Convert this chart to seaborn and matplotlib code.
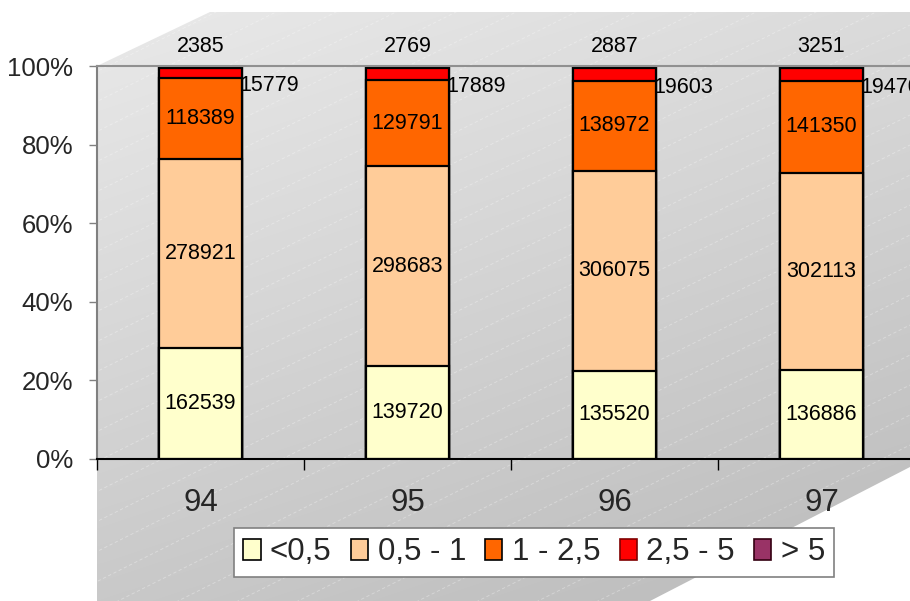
import numpy as np
import pandas as pd
import matplotlib
matplotlib.use("Agg")
import matplotlib.pyplot as plt
from matplotlib.patches import Polygon, Patch
import seaborn as sns

# ---- data ----
years = ["94", "95", "96", "97"]
series_names = ["<0,5", "0,5 - 1", "1 - 2,5", "2,5 - 5", "> 5"]
s_lt05 = [162539, 139720, 135520, 136886]
s_05_1 = [278921, 298683, 306075, 302113]
s_1_25 = [118389, 129791, 138972, 141350]
s_25_5 = [15779, 17889, 19603, 19470]
s_gt5 = [2385, 2769, 2887, 3251]
colors = ["#FFFFCC", "#FFCC99", "#FF6600", "#FF0000", "#993366"]
legend_edges = ["#000000", "#000000", "#000000", "#800000", "#330011"]

sns.set_theme(style="white")
plt.rcParams["font.family"] = ["Liberation Sans", "DejaVu Sans"]

W, H = 910, 601
fig = plt.figure(figsize=(W / 100, H / 100), dpi=100)

# ---- background wall / floor ----
bg = fig.add_axes([0, 0, 1, 1], zorder=0)
bg.set_xlim(0, W)
bg.set_ylim(H, 0)
bg.axis("off")
xx, yy = np.meshgrid(np.arange(W), np.arange(H))
g = 0.925 - 0.065 * (xx / W) - 0.13 * (yy / H)
img = np.dstack([g, g, g])
poly = Polygon([(97, 66), (210, 12), (910, 12), (910, 467), (650, 601), (97, 601)],
               closed=True, transform=bg.transData, facecolor="none", edgecolor="none")
bg.add_patch(poly)
im = bg.imshow(img, extent=(0, W, H, 0), aspect="auto", interpolation="bilinear")
im.set_clip_path(poly)
for c in np.arange(0, 1200, 30):
    xs = np.array([0, W])
    ln, = bg.plot(xs, c - 0.5 * xs, color="white", lw=0.6, alpha=0.35, ls=(0, (4, 3)))
    ln.set_clip_path(poly)

# ---- main axes ----
left, right, top, bottom = 97, 925, 66, 459
ax = fig.add_axes([left / W, (H - bottom) / H, (right - left) / W, (bottom - top) / H], zorder=1)
ax.set_facecolor("none")

df = pd.DataFrame({"year": years, series_names[0]: s_lt05, series_names[1]: s_05_1,
                   series_names[2]: s_1_25, series_names[3]: s_25_5, series_names[4]: s_gt5})
vals = df[series_names].to_numpy(dtype=float)
pct = vals / vals.sum(axis=1, keepdims=True) * 100
cum = np.cumsum(pct, axis=1)

bw = 0.4
for k in range(len(series_names) - 1, -1, -1):
    sns.barplot(x=df["year"], y=cum[:, k], color=colors[k], edgecolor="black",
                linewidth=1.6, width=bw, ax=ax, saturation=1)

ax.set_xlim(-0.5, 3.5)
ax.set_ylim(0, 100)
ax.set_xlabel("")
ax.set_ylabel("")

# data labels
lab_fs = 15.5
for i in range(len(years)):
    for k in range(3):
        yc = cum[i, k] - pct[i, k] / 2
        ax.text(i, yc, f"{int(vals[i, k])}", ha="center", va="center", fontsize=lab_fs, color="black")
    yc = cum[i, 3] - pct[i, 3] / 2 - 3.3
    ax.text(i + bw / 2 - 0.012, yc, f"{int(vals[i, 3])}", ha="left", va="center",
            fontsize=lab_fs, color="black", clip_on=False)
    ax.text(i, 105.0, f"{int(vals[i, 4])}", ha="center", va="center",
            fontsize=lab_fs, color="black", clip_on=False)

# axes styling
ax.set_yticks([0, 20, 40, 60, 80, 100])
ax.set_yticklabels(["0%", "20%", "40%", "60%", "80%", "100%"])
ax.tick_params(axis="y", which="major", length=6, width=1, color="#808080",
               direction="out", pad=11, labelsize=18.5, left=True)
ax.set_xticks(range(len(years)))
ax.set_xticklabels(years)
ax.set_xticks([-0.5, 0.5, 1.5, 2.5], minor=True)
ax.tick_params(axis="x", which="major", length=0, pad=21, labelsize=22.5)
ax.tick_params(axis="x", which="minor", length=8, width=1, color="black", direction="out", bottom=True)
for s in ["left", "top", "bottom", "right"]:
    ax.spines[s].set_visible(True)
ax.spines["right"].set_visible(False)
ax.spines["left"].set_color("#808080")
ax.spines["left"].set_linewidth(1.5)
ax.spines["top"].set_color("#909090")
ax.spines["top"].set_linewidth(1.5)
ax.spines["bottom"].set_color("black")
ax.spines["bottom"].set_linewidth(1.5)
ax.grid(False)

# legend
handles = [Patch(facecolor=colors[k], edgecolor=legend_edges[k], linewidth=1.2) for k in range(5)]
leg = fig.legend(handles, series_names, loc="upper left", bbox_to_anchor=(234 / W, 1 - 528 / H),
                 ncol=5, fontsize=22.5, frameon=True, fancybox=False, framealpha=1,
                 handlelength=0.55, handleheight=0.65, handletextpad=0.3, columnspacing=0.62,
                 borderpad=0.3, borderaxespad=0)
leg.get_frame().set_edgecolor("#808080")
leg.get_frame().set_linewidth(1.2)
leg.set_zorder(5)

fig.savefig("out.png", dpi=100)
